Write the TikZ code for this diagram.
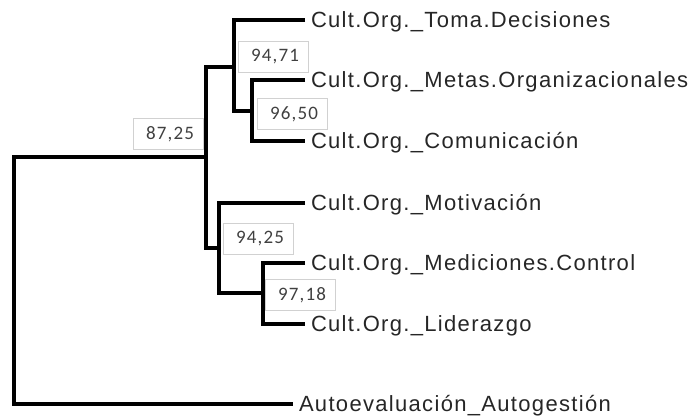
\documentclass[tikz,border=0pt]{standalone}
\usepackage{fontspec}
\setmainfont{Liberation Sans}
\newfontfamily\leaffont{Liberation Sans}[LetterSpace=6]
\newfontfamily\valfont{Carlito}[LetterSpace=6]

\begin{document}
\begin{tikzpicture}[x=1pt,y=-1pt]
        \tikzset{leaf/.style={anchor=west, inner xsep=6pt, inner ysep=0pt, outer sep=0pt,
            text height=15.5pt, text depth=0pt, text=black!85,
            font=\leaffont\fontsize{22}{22}\selectfont},
          val/.style={draw=black!18, line width=0.7pt, text width=52pt, align=right,
            inner xsep=9pt, inner ysep=0pt, minimum height=31pt, text=black!75,
            font=\valfont\fontsize{19}{19}\selectfont},
          tree/.style={line width=3.2pt, black}}
        \useasboundingbox (0,0) rectangle (696,417);
        \node [leaf] (toma) at (305,20) {Cult.Org.\_Toma.Decisiones};
        \node [leaf] (metas) at (305,80) {Cult.Org.\_Metas.Organizacionales};
        \node [leaf] (comu) at (305,141) {Cult.Org.\_Comunicación};
        \node [leaf] (moti) at (305,203) {Cult.Org.\_Motivación};
        \node [leaf] (medi) at (305,263) {Cult.Org.\_Mediciones.Control};
        \node [leaf] (lide) at (305,324) {Cult.Org.\_Liderazgo};
        \node [leaf] (auto) at (293,404) {Autoevaluación\_Autogestión};
        \coordinate (c96) at (252,111);
        \coordinate (c94a) at (234,67);
        \coordinate (c97) at (263,293);
        \coordinate (c94b) at (219,248);
        \coordinate (c87) at (206,157);
        \coordinate (root) at (14,280);
        \draw [tree] (metas.west) -| (c96) |- (comu.west);
        \draw [tree] (toma.west) -| (c94a) |- (c96);
        \draw [tree] (medi.west) -| (c97) |- (lide.west);
        \draw [tree] (moti.west) -| (c94b) |- (c97);
        \draw [tree] (c94a) -| (c87) |- (c94b);
        \draw [tree] (c87) -| (root) |- (auto.west);
        \node [val] (v87) at (168,134) {87,25};
        \node [val] (v94a) at (273,57) {94,71};
        \node [val] (v96) at (292,114) {96,50};
        \node [val] (v94b) at (258,239) {94,25};
        \node [val] (v97) at (300,295) {97,18};
      \end{tikzpicture}
\end{document}
